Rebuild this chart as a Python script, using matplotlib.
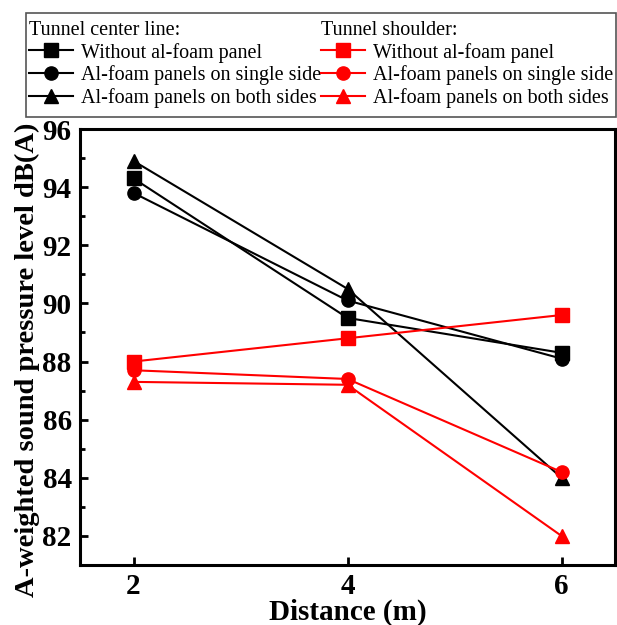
import matplotlib
matplotlib.use('Agg')
import matplotlib.pyplot as plt
from matplotlib.patches import Rectangle

# distance from source (m)
distance = [2, 4, 6]

# tunnel center line, dB(A)
center_none = [94.3, 89.5, 88.3]
center_single = [93.8, 90.1, 88.1]
center_both = [94.9, 90.5, 84.0]

# tunnel shoulder, dB(A)
shoulder_none = [88.0, 88.8, 89.6]
shoulder_single = [87.7, 87.4, 84.2]
shoulder_both = [87.3, 87.2, 82.0]

labels = ['Without al-foam panel',
          'Al-foam panels on single side',
          'Al-foam panels on both sides']
markers = ['s', 'o', '^']

plt.rcParams['font.family'] = ['Liberation Serif', 'DejaVu Serif']

fig = plt.figure(figsize=(6.17, 6.25), dpi=100)
ax = fig.add_axes([0.1297, 0.096, 0.8671, 0.6976])

h_center = []
for y, m, lab in zip([center_none, center_single, center_both], markers, labels):
    ln, = ax.plot(distance, y, color='k', marker=m, ms=9.5, lw=1.5, label=lab)
    h_center.append(ln)

h_shoulder = []
for y, m, lab in zip([shoulder_none, shoulder_single, shoulder_both], markers, labels):
    ln, = ax.plot(distance, y, color='#ff0000', marker=m, ms=9.5, lw=1.5, label=lab)
    h_shoulder.append(ln)

ax.set_xlim(1.5, 6.5)
ax.set_ylim(81, 96)
ax.set_xticks([2, 4, 6])
ax.set_yticks([82, 84, 86, 88, 90, 92, 94, 96])
ax.set_yticks([83, 85, 87, 89, 91, 93, 95], minor=True)
ax.tick_params(axis='both', which='major', direction='in', length=6, width=2,
               labelsize=21, pad=6)
ax.tick_params(axis='y', which='minor', direction='in', length=3.5, width=2)
for t in ax.get_xticklabels() + ax.get_yticklabels():
    t.set_fontweight('bold')
for s in ax.spines.values():
    s.set_linewidth(2.2)

ax.set_xlabel('Distance (m)', fontsize=21, fontweight='bold', labelpad=-1)
ax.set_ylabel('A-weighted sound pressure level dB(A)', fontsize=20.5,
              fontweight='bold')
ax.yaxis.set_label_coords(-0.074, 0.47)

leg_kw = dict(loc='upper left', frameon=False, fontsize=14.5, title_fontsize=14.5,
              alignment='left', handlelength=2.2, handletextpad=0.4,
              labelspacing=0.13, borderpad=0.15, borderaxespad=0)
fig.legend(handles=h_center, title='Tunnel center line:',
           bbox_to_anchor=(26 / 617, 1 - 18 / 625), **leg_kw)
fig.legend(handles=h_shoulder, title='Tunnel shoulder:',
           bbox_to_anchor=(318 / 617, 1 - 18 / 625), **leg_kw)
fig.patches.append(Rectangle((26 / 617, 1 - 117 / 625), 590 / 617, 104 / 625,
                             transform=fig.transFigure, fill=False,
                             edgecolor='#555555', lw=1.2))

fig.savefig('out.png', dpi=100)
